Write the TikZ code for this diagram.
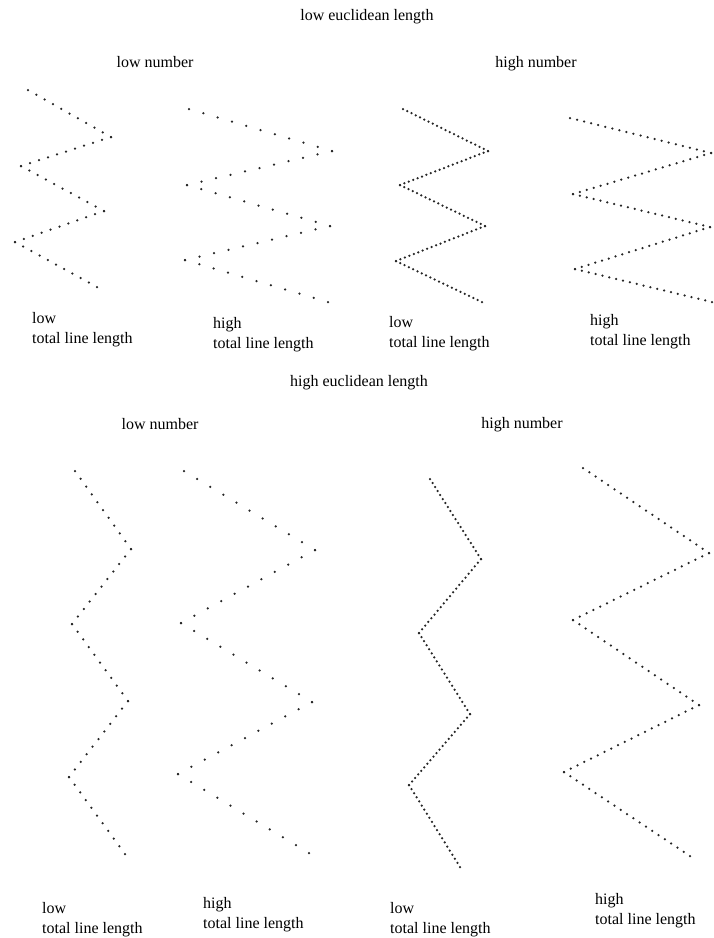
\documentclass[tikz,border=0pt]{standalone}
\usepackage{fontspec}
\setmainfont{Liberation Serif}
\usetikzlibrary{calc}

% dotted zigzag through six vertices, #2 gaps on every leg
\newcommand{\zigzag}[3]{%
  \foreach \x/\y [count=\i from 0] in {#3}
    \coordinate (#1\i) at (\x,\y);
  \foreach \a/\b in {0/1,1/2,2/3,3/4,4/5}
    \foreach \k in {0,...,#2}
      \fill[dotmark] ($(#1\a)!\k/#2!(#1\b)$) circle[radius=1.25];
}

\begin{document}
\begin{tikzpicture}[
  x=1pt, y=-1pt,
  font=\fontsize{16}{20}\selectfont,
  dotmark/.style={fill=black!85},
  heading/.style={anchor=base, inner sep=0pt},
  caption/.style={anchor=base west, align=left, inner sep=0pt}
]
\useasboundingbox (0,0) rectangle (714,938);

\def\nlow{10}
\def\nhigh{20}

% low euclidean length
\node[heading] (toptitle) at (367,20) {low euclidean length};
\node[heading] (toplow) at (155,67) {low number};
\node[heading] (tophigh) at (536,67) {high number};

\zigzag{lowA}{\nlow}{28/90,111/137,21/166,104/211,15/242,97/287}
\zigzag{lowB}{\nlow}{189/109,332/151,187/185,330/226,185/260,328/302}
\zigzag{highA}{\nhigh}{403/109,488/151,400/185,485/226,396/261,482/302}
\zigzag{highB}{\nhigh}{570/118,711/153,573/194,710/227,575/269,712/302}

% captions sit on the baseline of their last line
\node[caption] (capA) at (32,343) {low\\total line length};
\node[caption] (capB) at (213,348) {high\\total line length};
\node[caption] (capC) at (389,347) {low\\total line length};
\node[caption] (capD) at (590,345) {high\\total line length};

% high euclidean length
\node[heading] (bottitle) at (359,386) {high euclidean length};
\node[heading] (botlow) at (160,429) {low number};
\node[heading] (bothigh) at (522,428) {high number};

\zigzag{lowC}{\nlow}{75/471,131/549,72/624,128/701,69/777,125/854}
\zigzag{lowD}{\nlow}{184/471,315/550,181/623,312/702,178/774,309/853}
\zigzag{highC}{\nhigh}{430/479,481/559,419/633,470/714,409/785,460/867}
\zigzag{highD}{\nhigh}{583/468,709/553,573/620,699/705,564/772,690/856}

\node[caption] (capE) at (42,933) {low\\total line length};
\node[caption] (capF) at (203,928) {high\\total line length};
\node[caption] (capG) at (390,933) {low\\total line length};
\node[caption] (capH) at (595,924) {high\\total line length};

\end{tikzpicture}
\end{document}
